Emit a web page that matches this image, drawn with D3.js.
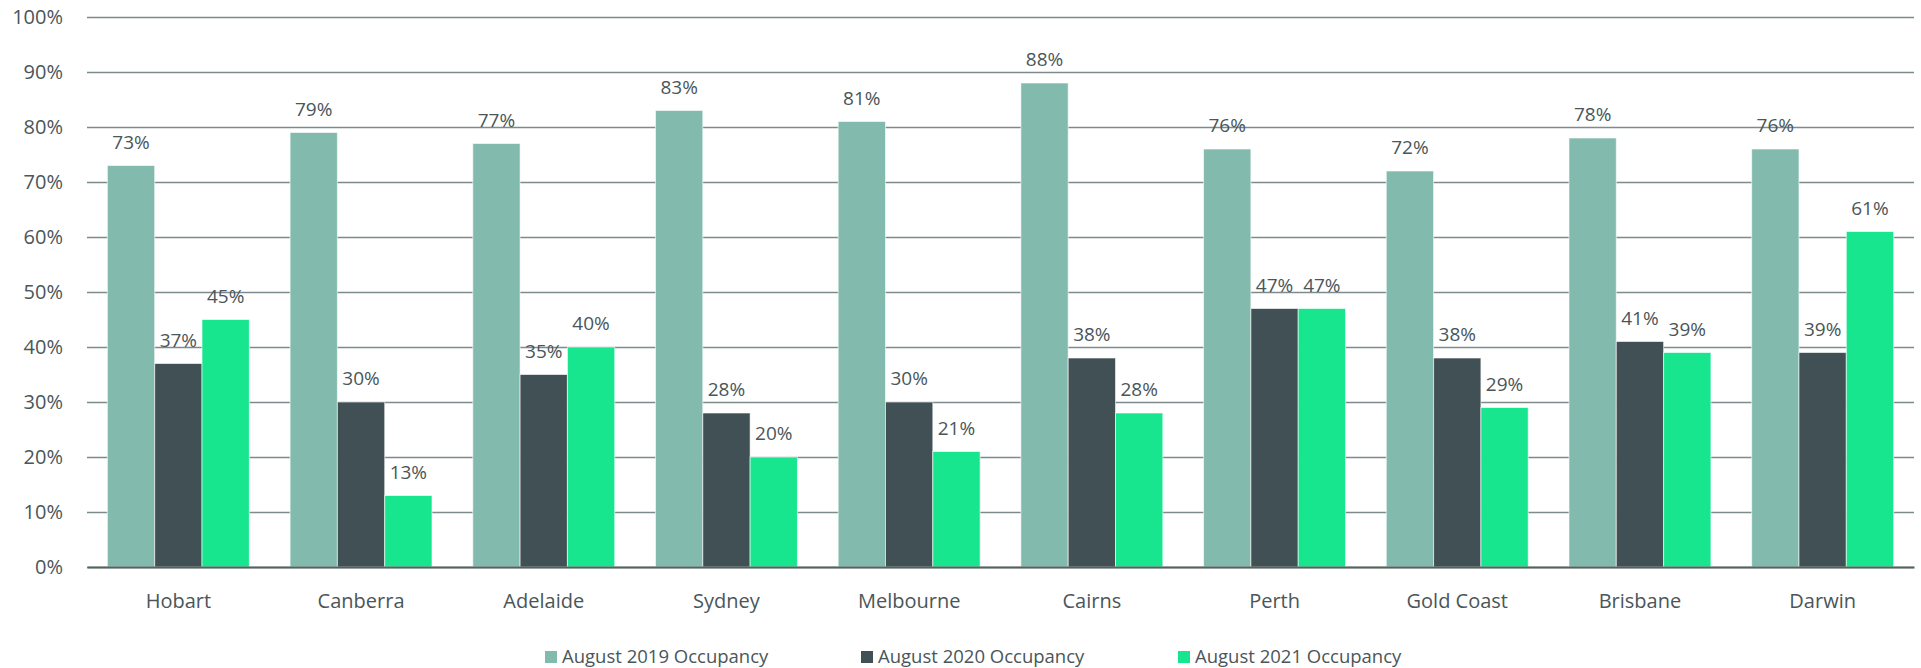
<html lang="en">
  <head>
    <meta charset="utf-8">
    <title>Occupancy</title>
    <script src="https://d3js.org/d3.v7.min.js"></script>
    <style>
      body { margin: 0; background: #fff; }
      text {
        font-family: "Open Sans", "DejaVu Sans", sans-serif;
        fill: #4a5659;
      }
      .tick text { font-size: 20px; }
      .city { font-size: 20px; }
      .val { font-size: 19px; }
      .legend text { font-size: 18.5px; }
    </style>
  </head>
  <body>
    <script type="text/javascript">

    var cities = ["Hobart", "Canberra", "Adelaide", "Sydney", "Melbourne",
                  "Cairns", "Perth", "Gold Coast", "Brisbane", "Darwin"];
    var seriesNames = ["August 2019 Occupancy", "August 2020 Occupancy", "August 2021 Occupancy"];
    var aug2019 = [73, 79, 77, 83, 81, 88, 76, 72, 78, 76];
    var aug2020 = [37, 30, 35, 28, 30, 38, 47, 38, 41, 39];
    var aug2021 = [45, 13, 40, 20, 21, 28, 47, 29, 39, 61];
    var yTicks = [0, 10, 20, 30, 40, 50, 60, 70, 80, 90, 100];
    var colors = ["#82bbad", "#415055", "#18e68f"];

    var w = 1921, h = 668;
    var plotLeft = 87, plotRight = 1914, plotTop = 17, plotBottom = 567;

    var svg = d3.select("body")
      .append("svg")
      .attr("width", w)
      .attr("height", h);

    var xScale = d3.scaleBand()
      .domain(cities)
      .range([plotLeft, plotRight])
      .paddingInner(0.223)
      .paddingOuter(0.1115);

    var xInner = d3.scaleBand()
      .domain(d3.range(seriesNames.length))
      .range([0, xScale.bandwidth()]);

    var yScale = d3.scaleLinear()
      .domain([0, 100])
      .range([plotBottom, plotTop]);

    // gridlines + y labels
    var yAxis = d3.axisLeft(yScale)
      .tickValues(yTicks)
      .tickSize(-(plotRight - plotLeft))
      .tickPadding(24)
      .tickFormat(function(d) { return d + "%"; });

    var gy = svg.append("g")
      .attr("transform", "translate(" + plotLeft + ",0)")
      .call(yAxis);
    gy.select(".domain").remove();
    gy.selectAll(".tick line")
      .attr("stroke", "#7e8b8c")
      .attr("stroke-width", 1.3);
    gy.selectAll(".tick text").attr("fill", "#4a5659");

    var data = [];
    cities.forEach(function(c, i) {
      [aug2019, aug2020, aug2021].forEach(function(s, j) {
        data.push({ city: c, s: j, v: s[i] });
      });
    });

    svg.selectAll("rect.bar")
      .data(data)
      .enter()
      .append("rect")
      .attr("class", "bar")
      .attr("x", function(d) { return xScale(d.city) + xInner(d.s); })
      .attr("y", function(d) { return yScale(d.v); })
      .attr("width", xInner.bandwidth())
      .attr("height", function(d) { return plotBottom - yScale(d.v); })
      .attr("fill", function(d) { return colors[d.s]; })
      .attr("stroke", "#ffffff")
      .attr("stroke-opacity", 0.6)
      .attr("stroke-width", 1);

    svg.selectAll("text.val")
      .data(data)
      .enter()
      .append("text")
      .attr("class", "val")
      .attr("x", function(d) { return xScale(d.city) + xInner(d.s) + xInner.bandwidth() / 2; })
      .attr("y", function(d) { return yScale(d.v) - 17; })
      .attr("text-anchor", "middle")
      .text(function(d) { return d.v + "%"; });

    // x axis
    var xAxis = d3.axisBottom(xScale).tickSize(0).tickPadding(27);
    var gx = svg.append("g")
      .attr("transform", "translate(0," + plotBottom + ")")
      .call(xAxis);
    gx.select(".domain")
      .attr("stroke", "#56625f")
      .attr("stroke-width", 2.2);
    gx.selectAll(".tick text")
      .attr("class", "city")
      .attr("fill", "#4a5659");

    // legend
    var legendX = [545, 861, 1178];
    var lg = svg.append("g").attr("class", "legend");
    seriesNames.forEach(function(n, i) {
      lg.append("rect")
        .attr("x", legendX[i])
        .attr("y", 651)
        .attr("width", 12)
        .attr("height", 12)
        .attr("fill", colors[i]);
      lg.append("text")
        .attr("x", legendX[i] + 17)
        .attr("y", 657)
        .attr("dy", "0.35em")
        .text(n);
    });

    </script>
  </body>
</html>
